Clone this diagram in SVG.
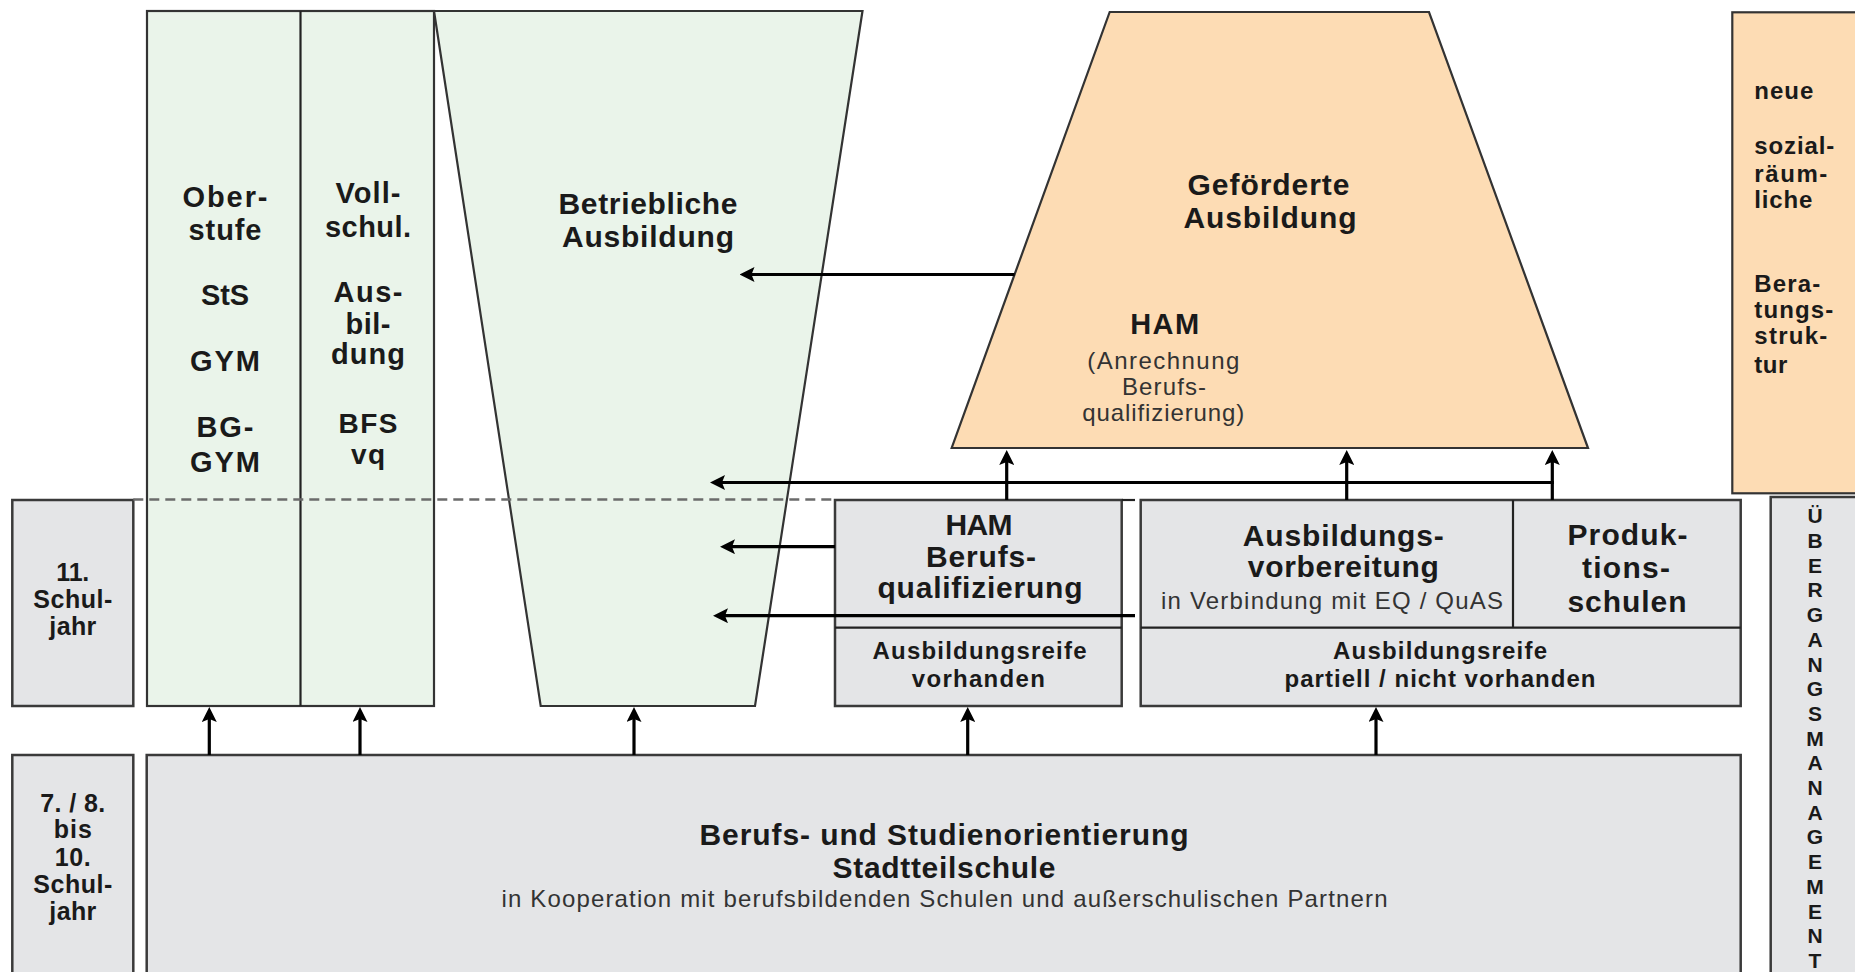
<svg xmlns="http://www.w3.org/2000/svg" width="1855" height="972" viewBox="0 0 1855 972">
<style>
text { font-family: 'Liberation Sans', Arial, sans-serif; }
.b { font-weight: bold; fill: #1a1a1a; text-anchor: middle; }
.bs { font-weight: bold; fill: #1a1a1a; text-anchor: start; }
.r { font-weight: normal; fill: #333; text-anchor: middle; }
.f30 { font-size: 30px; }
.f29 { font-size: 29px; }
.f28 { font-size: 28px; }
.f25 { font-size: 25px; }
.f24 { font-size: 24px; }
.f21 { font-size: 21px; }
.box { fill: #e4e5e7; stroke: #3a3a3a; stroke-width: 2.5; }
.green { fill: #eaf4ea; stroke: #333; stroke-width: 2.2; }
.orange { fill: #fddcb4; stroke: #333; stroke-width: 2.2; }
.div { stroke: #222; stroke-width: 2.2; fill: none; }
.arrow { stroke: #000; stroke-width: 3.2; fill: none; marker-end: url(#ah); }
.dash { stroke: #6b6b6b; stroke-width: 2.6; stroke-dasharray: 10 6; fill: none; }
</style>
<defs>
<marker id="ah" viewBox="0 0 15 15" refX="5" refY="7.5" markerWidth="15" markerHeight="15" markerUnits="userSpaceOnUse" orient="auto">
<path d="M0,0 L15,7.5 L0,15 L3,7.5 z" fill="#000"/>
</marker>
</defs>
<rect width="1855" height="972" fill="#fff"/>

<g id="oberstufe-vollschul">
<rect class="green" x="147" y="11" width="287" height="695"/>
<line class="div" x1="300.5" y1="11" x2="300.5" y2="706"/>
<text class="b f29" x="225" y="206.7" textLength="85">Ober-</text>
<text class="b f29" x="225" y="240" textLength="73">stufe</text>
<text class="b f29" x="225" y="305" textLength="48">StS</text>
<text class="b f29" x="225" y="370.7" textLength="70">GYM</text>
<text class="b f29" x="225" y="437.3" textLength="57">BG-</text>
<text class="b f29" x="225" y="471.7" textLength="70">GYM</text>
<text class="b f29" x="368" y="203.3" textLength="65">Voll-</text>
<text class="b f29" x="368" y="236.7" textLength="86">schul.</text>
<text class="b f29" x="368" y="301.7" textLength="69">Aus-</text>
<text class="b f29" x="368" y="334" textLength="45">bil-</text>
<text class="b f29" x="368" y="364" textLength="74">dung</text>
<text class="b f28" x="368" y="433" textLength="59">BFS</text>
<text class="b f28" x="368" y="464" textLength="34">vq</text>
</g>

<g id="betriebliche-ausbildung">
<polygon class="green" points="434,11 862.5,11 755,706 540.7,706"/>
<text class="b f30" x="648" y="214" textLength="179">Betriebliche</text>
<text class="b f30" x="648" y="246.5" textLength="172">Ausbildung</text>
</g>

<g id="gefoerderte-ausbildung">
<polygon class="orange" points="1109.7,12 1429,12 1588,448 951.7,448"/>
<text class="b f30" x="1268.5" y="194.5" textLength="162">Geförderte</text>
<text class="b f30" x="1270" y="228" textLength="173">Ausbildung</text>
<text class="b f29" x="1164.7" y="334.3" textLength="69">HAM</text>
<text class="r f24" x="1163.3" y="369.3" textLength="152">(Anrechnung</text>
<text class="r f24" x="1164" y="395" textLength="84">Berufs-</text>
<text class="r f24" x="1163.3" y="421" textLength="162">qualifizierung)</text>
</g>

<g id="beratungsstruktur">
<rect class="orange" x="1732.3" y="12.3" width="130" height="481"/>
<text class="bs f24" x="1754.3" y="99" textLength="59">neue</text>
<text class="bs f24" x="1754.3" y="154" textLength="80">sozial-</text>
<text class="bs f24" x="1754.3" y="181.7" textLength="73">räum-</text>
<text class="bs f24" x="1754.3" y="208.3" textLength="58">liche</text>
<text class="bs f24" x="1754.3" y="292.3" textLength="66">Bera-</text>
<text class="bs f24" x="1754.3" y="318" textLength="79">tungs-</text>
<text class="bs f24" x="1754.3" y="344" textLength="73">struk-</text>
<text class="bs f24" x="1754.3" y="372.7" textLength="33">tur</text>
</g>

<g id="schuljahr-11">
<rect class="box" x="12.3" y="500" width="121" height="206"/>
<text class="b f25" x="72.8" y="581" textLength="33">11.</text>
<text class="b f25" x="72.8" y="608" textLength="79">Schul-</text>
<text class="b f25" x="72.8" y="635" textLength="47">jahr</text>
</g>

<g id="schuljahr-7-10">
<rect class="box" x="12.3" y="755" width="121" height="240"/>
<text class="b f25" x="72.8" y="811.7" textLength="65">7. / 8.</text>
<text class="b f25" x="72.8" y="838.3" textLength="38">bis</text>
<text class="b f25" x="72.8" y="865.7" textLength="36">10.</text>
<text class="b f25" x="72.8" y="893.3" textLength="79">Schul-</text>
<text class="b f25" x="72.8" y="920" textLength="47">jahr</text>
</g>

<g id="ham-berufsqualifizierung">
<rect class="box" x="835" y="500" width="286.7" height="206"/>
<line class="div" x1="835" y1="627.7" x2="1121.7" y2="627.7"/>
<line class="div" x1="1121.7" y1="500" x2="1135" y2="500"/>
<text class="b f30" x="979" y="535" textLength="67">HAM</text>
<text class="b f30" x="981" y="567.3" textLength="110">Berufs-</text>
<text class="b f30" x="980" y="598.3" textLength="205">qualifizierung</text>
<text class="b f24" x="979.5" y="659.3" textLength="214">Ausbildungsreife</text>
<text class="b f24" x="978.3" y="686.7" textLength="133">vorhanden</text>
</g>

<g id="ausbildungsvorbereitung">
<rect class="box" x="1140.7" y="500" width="600" height="206"/>
<line class="div" x1="1140.7" y1="627.7" x2="1740.7" y2="627.7"/>
<line class="div" x1="1513" y1="500" x2="1513" y2="627.7"/>
<text class="b f30" x="1343.3" y="545.7" textLength="201">Ausbildungs-</text>
<text class="b f30" x="1343.3" y="577" textLength="191">vorbereitung</text>
<text class="r f24" x="1332" y="609" textLength="342">in Verbindung mit EQ / QuAS</text>
<text class="b f30" x="1627.5" y="545" textLength="120">Produk-</text>
<text class="b f30" x="1626" y="578.3" textLength="88">tions-</text>
<text class="b f30" x="1627" y="611.7" textLength="119">schulen</text>
<text class="b f24" x="1440" y="659.3" textLength="214">Ausbildungsreife</text>
<text class="b f24" x="1440" y="686.7" textLength="311">partiell / nicht vorhanden</text>
</g>

<g id="berufs-studienorientierung">
<rect class="box" x="146.7" y="755" width="1594" height="240"/>
<text class="b f30" x="944" y="845" textLength="489">Berufs- und Studienorientierung</text>
<text class="b f30" x="944" y="878.3" textLength="223">Stadtteilschule</text>
<text class="r f24" x="944.5" y="906.7" textLength="886">in Kooperation mit berufsbildenden Schulen und außerschulischen Partnern</text>
</g>

<g id="uebergangsmanagement">
<rect class="box" x="1770.7" y="497" width="100" height="500"/>
<g class="b f21">
<text x="1815" y="523.3">Ü</text>
<text x="1815" y="548">B</text>
<text x="1815" y="572.7">E</text>
<text x="1815" y="597.4">R</text>
<text x="1815" y="622.1">G</text>
<text x="1815" y="646.8">A</text>
<text x="1815" y="671.5">N</text>
<text x="1815" y="696.2">G</text>
<text x="1815" y="720.9">S</text>
<text x="1815" y="745.6">M</text>
<text x="1815" y="770.3">A</text>
<text x="1815" y="795">N</text>
<text x="1815" y="819.7">A</text>
<text x="1815" y="844.4">G</text>
<text x="1815" y="869.1">E</text>
<text x="1815" y="893.8">M</text>
<text x="1815" y="918.5">E</text>
<text x="1815" y="943.2">N</text>
<text x="1815" y="967.9">T</text>
</g>
</g>

<g id="connectors">
<line class="dash" x1="133.3" y1="499.5" x2="833" y2="499.5"/>
<line class="arrow" x1="1014.6" y1="274.5" x2="749.5" y2="274.5"/>
<line class="arrow" x1="1553.9" y1="482.5" x2="720" y2="482.5"/>
<line class="arrow" x1="1006.7" y1="500" x2="1006.7" y2="460"/>
<line class="arrow" x1="1346.7" y1="500" x2="1346.7" y2="460"/>
<line class="arrow" x1="1552.3" y1="500" x2="1552.3" y2="460"/>
<line class="arrow" x1="835" y1="546.7" x2="730" y2="546.7"/>
<line class="arrow" x1="1135" y1="615.7" x2="723" y2="615.7"/>
<line class="arrow" x1="209.3" y1="755" x2="209.3" y2="717"/>
<line class="arrow" x1="360" y1="755" x2="360" y2="717"/>
<line class="arrow" x1="634" y1="755" x2="634" y2="717"/>
<line class="arrow" x1="967.7" y1="755" x2="967.7" y2="717"/>
<line class="arrow" x1="1376" y1="755" x2="1376" y2="717"/>
</g>
</svg>
